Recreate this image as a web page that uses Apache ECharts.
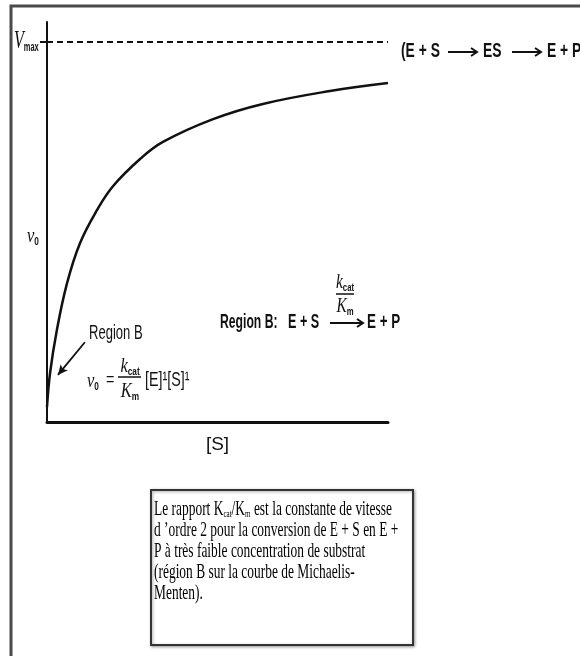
<!DOCTYPE html>
<html>
<head>
<meta charset="utf-8">
<script src="https://cdn.jsdelivr.net/npm/echarts@6/dist/echarts.min.js"></script>
<style>
  html, body { margin: 0; padding: 0; background: #fff; }
  #chart { width: 580px; height: 656px; }
</style>
</head>
<body>
<div id="chart"></div>
<script>
// Michaelis-Menten saturation curve: substrate concentration [S] (arbitrary units)
const substrate = [0, 0.09, 0.29, 0.59, 0.97, 1.47, 1.94, 2.73, 3.40, 4.87, 6.33, 8.30, 10];
// initial velocity v0, as a fraction of Vmax
const velocity = [0.039, 0.129, 0.242, 0.366, 0.471, 0.558, 0.621, 0.692, 0.737, 0.797, 0.837, 0.871, 0.892];
// asymptote
const VMAX = 1;
// axis extents
const S_MAX = 10;
const V_AXIS_MAX = 1.0526;
// "Region B" pointer, in data units (tail, head)
const regionBTail = [1.11, 0.21];
const regionBHead = [0.32, 0.124];

// box text, one entry per line
const noteLines = [
  'Le rapport K{s|cat}/K{s|m} est la constante de vitesse',
  "d \u2019ordre 2 pour la conversion de E + S en E +",
  'P \u00e0 tr\u00e8s faible concentration de substrat',
  '(r\u00e9gion B sur la courbe de Michaelis-',
  'Menten).'
];

const SANS = '"Liberation Sans", Arial, sans-serif';
const SERIF = '"Liberation Serif", "Times New Roman", serif';
const INK = '#111';

// condensed text: a group squeezed horizontally around its left/centre anchor
function txt(x, y, text, o) {
  o = o || {};
  const align = o.align || 'left';
  return {
    type: 'group', x: x, y: y, scaleX: o.sx || 1, silent: true,
    children: [{
      type: 'text', z: 20,
      style: {
        text: text,
        fontFamily: o.family || SANS,
        fontSize: o.size || 21,
        fontStyle: o.style || 'normal',
        fontWeight: o.weight || 'normal',
        fill: o.color || INK,
        align: align, textAlign: align,
        verticalAlign: 'middle', textVerticalAlign: 'middle',
        rich: o.rich
      }
    }]
  };
}

// reaction arrow: shaft plus open head
function arrow(x1, x2, y) {
  return [
    { type: 'line', silent: true, z: 10, shape: { x1: x1, y1: y, x2: x2 - 1, y2: y },
      style: { stroke: INK, lineWidth: 2 } },
    { type: 'polyline', silent: true, z: 10,
      shape: { points: [[x2 - 6, y - 4], [x2, y], [x2 - 6, y + 4]] },
      style: { stroke: INK, lineWidth: 2, fill: 'none' } }
  ];
}

function fracBar(x1, x2, y) {
  return { type: 'line', silent: true, z: 10, shape: { x1: x1, y1: y, x2: x2, y2: y },
    style: { stroke: INK, lineWidth: 1.5 } };
}

const richSub = {
  it: { fontFamily: SERIF, fontStyle: 'italic', fontSize: 22, lineHeight: 22 },
  s: { fontFamily: SANS, fontWeight: 'bold', fontSize: 11, lineHeight: 11, verticalAlign: 'bottom' }
};

const noteRich = {
  s: { fontFamily: SERIF, fontSize: 11, lineHeight: 11, verticalAlign: 'bottom' }
};

const graphics = [
  // page frame
  { type: 'rect', silent: true, z: 0, shape: { x: 11, y: 6, width: 640, height: 700 },
    style: { fill: 'none', stroke: '#4a4a4a', lineWidth: 3 } },

  // axis titles
  txt(14, 41, '{V|V}{m|max}', { sx: 0.62, rich: {
    V: { fontFamily: SERIF, fontStyle: 'italic', fontSize: 26, lineHeight: 26 },
    m: { fontFamily: SANS, fontWeight: 'bold', fontSize: 12, lineHeight: 12, verticalAlign: 'bottom' }
  } }),
  txt(27, 236, '{it|v}{s|0}', { sx: 0.75, rich: richSub }),

  // overall reaction
  txt(401, 51, '(E + S', { weight: 'bold', sx: 0.66 }),
  ...arrow(448, 477, 52),
  txt(483, 51, 'ES', { weight: 'bold', sx: 0.66 }),
  ...arrow(512, 541, 52),
  txt(547, 51, 'E + P)', { weight: 'bold', sx: 0.66 }),

  // Region B pointer label and rate law
  txt(89, 333, 'Region B', { sx: 0.62 }),
  txt(87, 381, '{it|v}{s|0}', { sx: 0.75, rich: richSub }),
  txt(106, 380, '=', { size: 18, sx: 0.8 }),
  txt(130, 366, '{it|k}{s|cat}', { align: 'center', sx: 0.75, rich: richSub }),
  fracBar(118, 141, 377),
  txt(130, 391, '{it|K}{s|m}', { align: 'center', sx: 0.75, rich: richSub }),
  txt(145, 380, '[E]\u00b9[S]\u00b9', { sx: 0.68 }),

  // second-order reaction at low [S]
  txt(220, 322, 'Region B:', { weight: 'bold', sx: 0.58 }),
  txt(288, 322, 'E + S', { weight: 'bold', sx: 0.6 }),
  txt(345, 282, '{it|k}{s|cat}', { align: 'center', sx: 0.7, rich: richSub }),
  fracBar(336, 354, 294),
  txt(345, 306, '{it|K}{s|m}', { align: 'center', sx: 0.7, rich: richSub }),
  ...arrow(330, 363, 323),
  txt(367, 322, 'E + P', { weight: 'bold', sx: 0.64 }),

  // explanatory note
  { type: 'rect', silent: true, z: 5, shape: { x: 151, y: 490, width: 262, height: 155 },
    style: { fill: '#fff', stroke: '#333', lineWidth: 2,
      shadowBlur: 3, shadowColor: 'rgba(0,0,0,0.35)', shadowOffsetX: 1, shadowOffsetY: 1 } }
];

noteLines.forEach(function (line, i) {
  graphics.push(txt(154, 509 + i * 21, line, { family: SERIF, size: 21, sx: 0.64, color: '#000', rich: noteRich }));
});

const chart = echarts.init(document.getElementById('chart'), null, { renderer: 'canvas' });

chart.setOption({
  animation: false,
  backgroundColor: '#fff',
  grid: { left: 47, top: 22, width: 341, height: 400, containLabel: false, outerBoundsMode: 'none' },
  xAxis: {
    type: 'value', min: 0, max: S_MAX,
    axisLine: { show: true, onZero: false, lineStyle: { color: INK, width: 3 } },
    axisTick: { show: false },
    axisLabel: { show: false },
    splitLine: { show: false },
    name: '[S]', nameLocation: 'middle', nameGap: 13,
    nameTextStyle: { fontFamily: SANS, fontSize: 19, color: INK }
  },
  yAxis: {
    type: 'value', min: 0, max: V_AXIS_MAX,
    axisLine: { show: true, onZero: false, lineStyle: { color: INK, width: 2 } },
    axisTick: { show: true, customValues: [VMAX], length: 7, lineStyle: { color: INK, width: 2 } },
    axisLabel: { show: false },
    splitLine: { show: false }
  },
  series: [{
    type: 'line',
    data: substrate.map(function (s, i) { return [s, velocity[i]]; }),
    smooth: 0.4,
    symbol: 'none',
    lineStyle: { color: INK, width: 2.5 },
    markLine: {
      silent: true,
      animation: false,
      symbol: ['none', 'none'],
      label: { show: false },
      lineStyle: { color: INK, width: 1.8, type: 'solid' },
      data: [
        { yAxis: VMAX, lineStyle: { color: INK, width: 2, type: [6, 4] } },
        [
          { coord: regionBTail, symbol: 'none' },
          { coord: regionBHead, symbol: 'arrow', symbolSize: [7, 10] }
        ]
      ]
    }
  }],
  graphic: graphics
});
</script>
</body>
</html>
